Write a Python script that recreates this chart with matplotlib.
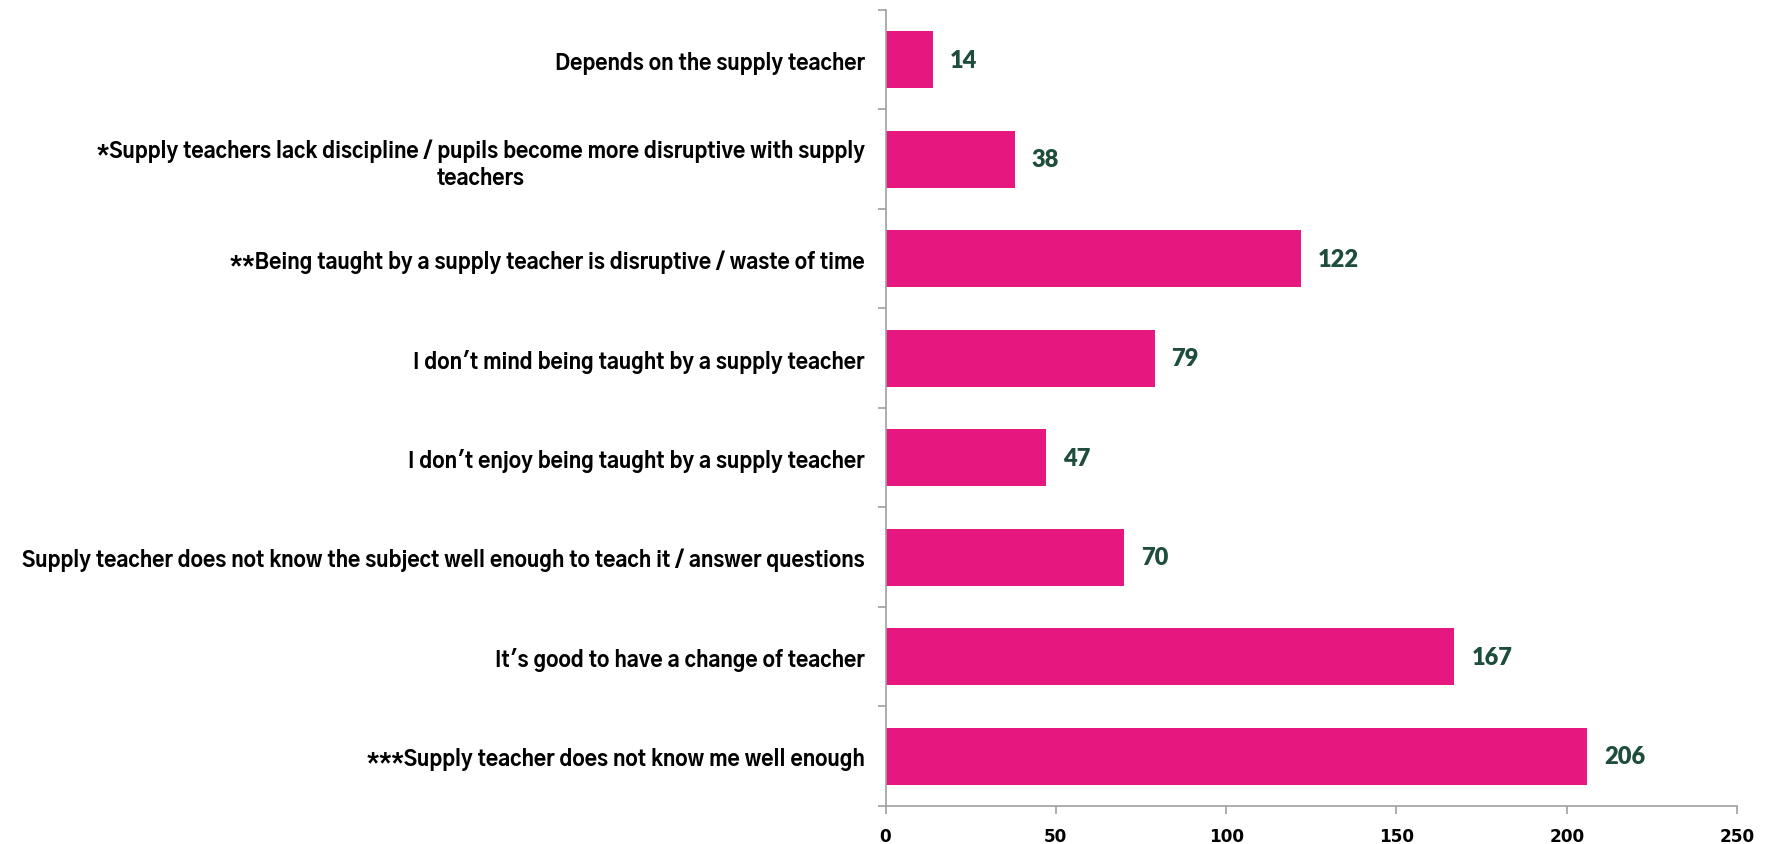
import matplotlib
matplotlib.use("Agg")
import matplotlib.pyplot as plt
import numpy as np

categories = [
    "Depends on the supply teacher",
    "*Supply teachers lack discipline / pupils become more disruptive with supply\nteachers",
    "**Being taught by a supply teacher is disruptive / waste of time",
    "I don't mind being taught by a supply teacher",
    "I don't enjoy being taught by a supply teacher",
    "Supply teacher does not know the subject well enough to teach it / answer questions",
    "It's good to have a change of teacher",
    "***Supply teacher does not know me well enough",
]
values = [14, 38, 122, 79, 47, 70, 167, 206]
xticks = [0, 50, 100, 150, 200, 250]

label_font = ["Gothic A1", "Be Vietnam Pro", "Inter", "DejaVu Sans"]
value_font = ["Lato", "Carlito", "DejaVu Sans"]
tick_font = ["DejaVu Sans"]

fig = plt.figure(figsize=(17.69, 8.45), dpi=100)
ax = fig.add_axes([885.5 / 1769, 0.045, (1737 - 885.5) / 1769, 0.987 - 0.045])

n = len(categories)
y = np.arange(n)
ax.barh(y, values, height=0.57, color="#E6177F", zorder=2)
ax.set_ylim(n - 0.5, -0.5)
ax.set_xlim(0, 250)

for yi, v in zip(y, values):
    ax.text(v + 5, yi, str(v), va="center", ha="left", fontsize=17,
            fontweight=800, color="#1E4D3B", family=value_font)

ax.set_yticks(y)
ax.set_yticklabels(categories, fontsize=15, fontweight=800, family=label_font,
                   ha="right", multialignment="center")
ax.set_yticks(np.arange(-0.5, n + 0.5, 1), minor=True)
ax.tick_params(axis="y", which="major", length=0, pad=15)
ax.tick_params(axis="y", which="minor", length=6, color="#A0A0A0", width=1.2)

ax.set_xticks(xticks)
ax.set_xticklabels([str(t) for t in xticks], fontsize=12.2, fontweight="bold", family=tick_font)
ax.tick_params(axis="x", length=6, color="#A0A0A0", width=1.2, pad=9)

for s in ["top", "right"]:
    ax.spines[s].set_visible(False)
for s in ["left", "bottom"]:
    ax.spines[s].set_color("#A0A0A0")
    ax.spines[s].set_linewidth(1.2)

# size the category labels to the width measured on the reference
fig.canvas.draw()
r = fig.canvas.get_renderer()
w = ax.get_yticklabels()[5].get_window_extent(r).width
fs = 15 * 847.0 / w
for lbl in ax.get_yticklabels():
    lbl.set_fontsize(fs)

fig.savefig("out.png", dpi=100)
